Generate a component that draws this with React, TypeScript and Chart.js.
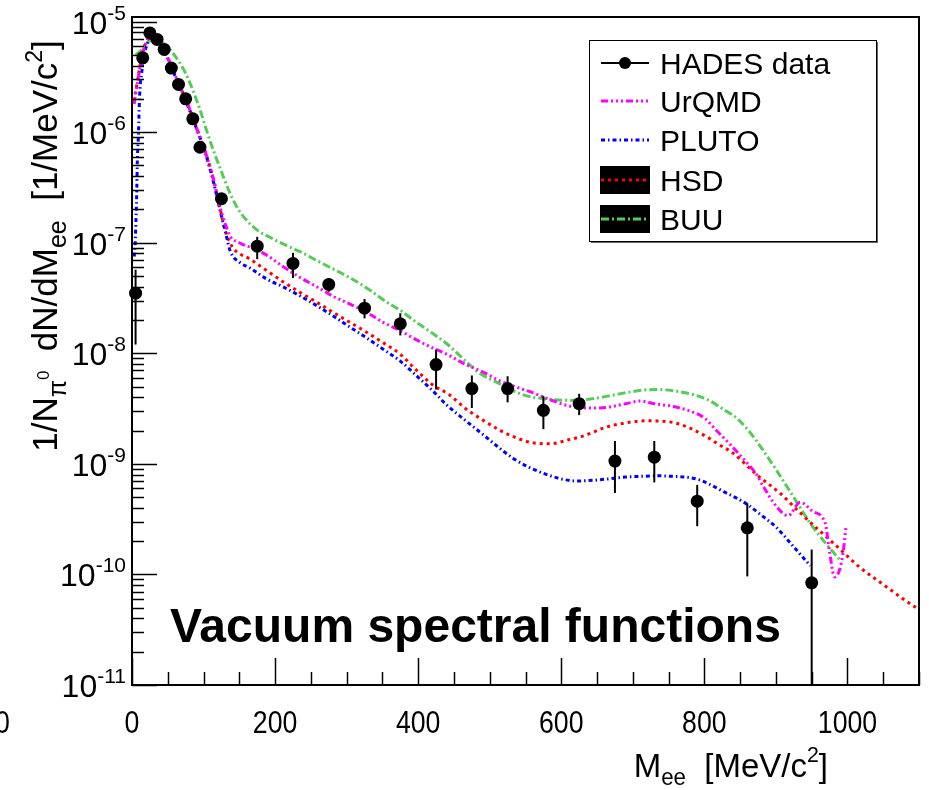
import React, { useEffect, useRef } from "react";
import { Chart, registerables } from "chart.js";

Chart.register(...registerables);

const FONT = '"Liberation Sans", Arial, Helvetica, sans-serif';

// ---- HADES data ----
const hadesMass = [5, 15, 25, 35, 45, 55, 65, 75, 85, 95, 125, 175, 225, 275, 325, 375, 425, 475, 525, 575, 625, 675, 730, 790, 860, 950];
const hadesYield = [3.5e-8, 4.7e-6, 7.9e-6, 6.9e-6, 5.6e-6, 3.8e-6, 2.7e-6, 2.0e-6, 1.32e-6, 7.3e-7, 2.5e-7, 9.3e-8, 6.5e-8, 4.2e-8, 2.56e-8, 1.85e-8, 7.9e-9, 4.8e-9, 4.8e-9, 3.05e-9, 3.5e-9, 1.06e-9, 1.15e-9, 4.6e-10, 2.64e-10, 8.4e-11];
const hadesUpper = [5.7e-8, 5.0e-6, 8.4e-6, 7.3e-6, 5.9e-6, 4.0e-6, 2.85e-6, 2.1e-6, 1.4e-6, 7.7e-7, 2.7e-7, 1.13e-7, 8.1e-8, 4.8e-8, 3.1e-8, 2.3e-8, 1.08e-8, 6.3e-9, 6.2e-9, 4.1e-9, 4.3e-9, 1.61e-9, 1.61e-9, 6.45e-10, 4.4e-10, 1.68e-10];
const hadesLower = [1.2e-8, 4.4e-6, 7.4e-6, 6.5e-6, 5.3e-6, 3.6e-6, 2.55e-6, 1.9e-6, 1.25e-6, 6.9e-7, 2.3e-7, 7.1e-8, 4.8e-8, 3.6e-8, 2.07e-8, 1.45e-8, 4.7e-9, 3.2e-9, 3.6e-9, 2.06e-9, 2.76e-9, 5.45e-10, 6.8e-10, 2.73e-10, 9.6e-11, 1e-12];

// ---- UrQMD ----
const urqmdMass = [3, 5, 8, 11, 15, 20, 25, 30, 40, 50, 60, 70, 80, 90, 100, 105, 110, 115, 120, 125, 130, 137, 150, 175, 190, 210, 235, 260, 280, 300, 330, 350, 375, 395, 420, 440, 465, 490, 515, 535, 560, 585, 610, 640, 665, 690, 710, 730, 757, 780, 800, 817, 836, 855, 873, 882, 901, 917, 934, 952, 969, 975, 982, 989, 994, 998];
const urqmdYield = [1.8e-6, 2.2e-6, 2.9e-6, 3.8e-6, 5.2e-6, 6.5e-6, 7.3e-6, 7.4e-6, 6.4e-6, 4.7e-6, 3.3e-6, 2.35e-6, 1.65e-6, 1.1e-6, 7.4e-7, 5.9e-7, 4.6e-7, 3.5e-7, 2.5e-7, 1.9e-7, 1.5e-7, 1.15e-7, 1.0e-7, 8.6e-8, 7.6e-8, 6.15e-8, 4.85e-8, 3.94e-8, 3.3e-8, 2.88e-8, 2.3e-8, 1.92e-8, 1.6e-8, 1.35e-8, 1.12e-8, 9.8e-9, 8.0e-9, 6.8e-9, 5.6e-9, 5.0e-9, 4.4e-9, 3.8e-9, 3.35e-9, 3.2e-9, 3.25e-9, 3.5e-9, 3.7e-9, 3.5e-9, 3.3e-9, 3.0e-9, 2.6e-9, 2.0e-9, 1.5e-9, 1.1e-9, 8.0e-10, 6.3e-10, 4.1e-10, 3.4e-10, 4.5e-10, 3.7e-10, 2.9e-10, 1.6e-10, 9.5e-11, 1.1e-10, 1.6e-10, 2.7e-10];

// ---- PLUTO ----
const plutoMass = [3, 4, 5.5, 6.5, 7.5, 9, 10, 11, 13.5, 16, 20, 25, 30, 40, 50, 60, 70, 80, 90, 100, 105, 110, 115, 120, 125, 130, 137, 151, 165, 188, 211, 235, 258, 280, 305, 330, 350, 375, 395, 420, 440, 465, 488, 510, 533, 555, 580, 600, 620, 645, 665, 690, 710, 735, 757, 780, 795, 810, 827, 845, 860, 878, 901, 924, 948];
const plutoYield = [7.5e-8, 8.5e-8, 1.6e-7, 2.6e-7, 5.6e-7, 9.5e-7, 1.6e-6, 2.4e-6, 3.4e-6, 4.8e-6, 5.9e-6, 7.0e-6, 7.2e-6, 6.3e-6, 4.6e-6, 3.25e-6, 2.3e-6, 1.6e-6, 1.08e-6, 7.2e-7, 5.7e-7, 4.4e-7, 3.3e-7, 2.4e-7, 1.75e-7, 1.3e-7, 8.5e-8, 6.6e-8, 5.9e-8, 4.7e-8, 4.0e-8, 3.3e-8, 2.7e-8, 2.2e-8, 1.72e-8, 1.35e-8, 1.1e-8, 8.5e-9, 6.5e-9, 4.6e-9, 3.4e-9, 2.5e-9, 1.9e-9, 1.45e-9, 1.12e-9, 9.3e-10, 8.0e-10, 7.3e-10, 7.0e-10, 7.1e-10, 7.3e-10, 7.6e-10, 7.7e-10, 7.8e-10, 7.7e-10, 7.5e-10, 7.1e-10, 6.4e-10, 5.6e-10, 4.9e-10, 4.3e-10, 3.5e-10, 2.65e-10, 1.8e-10, 1.2e-10];

// ---- HSD ----
const hsdMass = [3, 5, 8, 11, 15, 20, 25, 30, 40, 50, 60, 70, 80, 90, 100, 105, 110, 115, 120, 125, 130, 137, 142, 165, 190, 212, 235, 258, 280, 305, 330, 350, 375, 395, 420, 444, 465, 490, 515, 537, 560, 585, 610, 630, 663, 690, 720, 756, 780, 803, 820, 840, 873, 906, 934, 959, 985, 1018, 1050, 1078, 1100];
const hsdYield = [1.9e-6, 2.3e-6, 3.0e-6, 3.9e-6, 5.3e-6, 6.6e-6, 7.2e-6, 7.3e-6, 6.4e-6, 4.7e-6, 3.3e-6, 2.35e-6, 1.65e-6, 1.1e-6, 7.4e-7, 5.9e-7, 4.6e-7, 3.5e-7, 2.5e-7, 1.8e-7, 1.3e-7, 1.0e-7, 8.8e-8, 7.1e-8, 5.5e-8, 4.4e-8, 3.55e-8, 2.9e-8, 2.37e-8, 1.9e-8, 1.52e-8, 1.26e-8, 9.8e-9, 7.3e-9, 5.2e-9, 4.2e-9, 3.2e-9, 2.5e-9, 2.0e-9, 1.72e-9, 1.55e-9, 1.52e-9, 1.65e-9, 1.78e-9, 2.15e-9, 2.35e-9, 2.45e-9, 2.37e-9, 2.1e-9, 1.76e-9, 1.5e-9, 1.25e-9, 8.0e-10, 5.4e-10, 3.6e-10, 2.55e-10, 1.8e-10, 1.15e-10, 8.1e-11, 6.0e-11, 4.8e-11];

// ---- BUU ----
const buuMass = [5, 10, 15, 20, 25, 35, 45, 55, 65, 75, 85, 95, 105, 115, 125, 135, 145, 155, 175, 195, 215, 235, 260, 281, 305, 328, 356, 375, 393, 421, 440, 468, 486, 514, 547, 580, 617, 640, 665, 690, 715, 735, 760, 780, 805, 827, 845, 859, 878, 899, 924, 948, 962, 978, 992];
const buuYield = [5.0e-6, 5.3e-6, 5.7e-6, 6.3e-6, 6.7e-6, 6.7e-6, 6.3e-6, 5.4e-6, 4.4e-6, 3.4e-6, 2.4e-6, 1.6e-6, 1.0e-6, 6.5e-7, 4.4e-7, 3.0e-7, 2.2e-7, 1.75e-7, 1.3e-7, 1.1e-7, 9.5e-8, 8.3e-8, 6.8e-8, 5.8e-8, 4.8e-8, 3.9e-8, 2.9e-8, 2.45e-8, 2.0e-8, 1.5e-8, 1.22e-8, 8.3e-9, 6.6e-9, 5.3e-9, 4.2e-9, 3.85e-9, 3.75e-9, 3.85e-9, 4.1e-9, 4.4e-9, 4.65e-9, 4.7e-9, 4.55e-9, 4.3e-9, 3.8e-9, 3.1e-9, 2.6e-9, 2.1e-9, 1.45e-9, 9.1e-10, 5.1e-10, 2.9e-10, 2.2e-10, 1.65e-10, 1.3e-10];

// ---- axes ----
const xMin = 0;
const xMax = 1100;
const yMin = 1e-11;
const yMax = 1.1e-5;
const xTickLabels = [0, 200, 400, 600, 800, 1000];
const yDecades = [-11, -10, -9, -8, -7, -6, -5];

const legendLabels = ["HADES data", "UrQMD", "PLUTO", "HSD", "BUU"];
const seriesColors = ["#000000", "#ff00ff", "#0000ff", "#ff0000", "#55cc55"];
const seriesDashes = [[], [7, 3, 2, 3, 2, 3, 2, 3], [4, 3, 1.5, 3], [3, 4], [8, 3, 2, 3]];

type Part = { t: string; size: number; dy?: number; bold?: boolean };

function fontOf(p: Part) {
  return `${p.bold ? "bold " : ""}${p.size}px ${FONT}`;
}

function drawParts(ctx: CanvasRenderingContext2D, parts: Part[], x: number, y: number, align: string, sx = 1) {
  ctx.save();
  ctx.translate(x, y);
  ctx.scale(sx, 1);
  ctx.textAlign = "left";
  ctx.textBaseline = "alphabetic";
  let w = 0;
  for (const p of parts) {
    ctx.font = fontOf(p);
    w += ctx.measureText(p.t).width;
  }
  let cx = align === "right" ? -w : align === "center" ? -w / 2 : 0;
  for (const p of parts) {
    ctx.font = fontOf(p);
    ctx.fillText(p.t, cx, p.dy || 0);
    cx += ctx.measureText(p.t).width;
  }
  ctx.restore();
}

const rootStyle = {
  id: "rootStyle",
  beforeDatasetDraw(chart: any, args: any) {
    if (args.index !== 0) return;
    const { ctx, chartArea: a, scales } = chart;
    const xs = scales.x;
    const ys = scales.y;
    ctx.save();
    ctx.beginPath();
    ctx.rect(a.left, a.top, a.right - a.left, a.bottom - a.top);
    ctx.clip();
    ctx.strokeStyle = "#000";
    ctx.lineWidth = 2;
    hadesMass.forEach((m, i) => {
      const px = xs.getPixelForValue(m);
      ctx.beginPath();
      ctx.moveTo(px, ys.getPixelForValue(hadesUpper[i]));
      ctx.lineTo(px, ys.getPixelForValue(hadesLower[i]));
      ctx.stroke();
    });
    ctx.restore();
  },
  afterDraw(chart: any) {
    const { ctx, chartArea: a, scales } = chart;
    const xs = scales.x;
    const ys = scales.y;
    ctx.save();
    ctx.fillStyle = "#000";
    ctx.strokeStyle = "#000";

    // frame
    ctx.lineWidth = 2;
    ctx.strokeRect(a.left, a.top, a.right - a.left, a.bottom - a.top);

    // y ticks
    ctx.lineWidth = 1.5;
    for (const e of yDecades) {
      for (let k = 1; k <= 9; k++) {
        const v = k * Math.pow(10, e);
        if (v < yMin * 0.999 || v > yMax) continue;
        const py = Math.round(ys.getPixelForValue(v)) + 0.5;
        const len = k === 1 ? 25 : 12;
        ctx.beginPath();
        ctx.moveTo(a.left, py);
        ctx.lineTo(a.left + len, py);
        ctx.stroke();
      }
    }
    // x ticks
    for (let v = xMin; v <= xMax; v += 50) {
      const px = Math.round(xs.getPixelForValue(v)) + 0.5;
      const len = v % 200 === 0 ? 27 : 13;
      ctx.beginPath();
      ctx.moveTo(px, a.bottom);
      ctx.lineTo(px, a.bottom - len);
      ctx.stroke();
    }

    // x tick labels
    for (const v of xTickLabels) {
      const px = xs.getPixelForValue(v);
      drawParts(ctx, [{ t: String(v), size: 31 }], px, a.bottom + 48, "center", 0.86);
    }
    // y tick labels
    for (const e of yDecades) {
      const py = ys.getPixelForValue(Math.pow(10, e));
      drawParts(ctx, [{ t: "10", size: 32 }, { t: String(e), size: 21, dy: -14 }], 126, py + 12, "right");
    }

    // stray label at far left
    drawParts(ctx, [{ t: "0", size: 31 }], -5, a.bottom + 48, "left", 0.86);

    // x title
    drawParts(
      ctx,
      [
        { t: "M", size: 34 },
        { t: "ee", size: 23, dy: 8 },
        { t: "  [MeV/c", size: 34 },
        { t: "2", size: 22, dy: -15 },
        { t: "]", size: 34 },
      ],
      828,
      777,
      "right",
      0.97
    );

    // y title (rotated)
    ctx.save();
    ctx.translate(57, 246);
    ctx.rotate(-Math.PI / 2);
    drawParts(
      ctx,
      [
        { t: "1/N", size: 35 },
        { t: "\u03c0", size: 25, dy: 9 },
        { t: "0", size: 17, dy: -8 },
        { t: "  dN/dM", size: 35 },
        { t: "ee", size: 25, dy: 9 },
        { t: "  [1/MeV/c", size: 35 },
        { t: "2", size: 23, dy: -15 },
        { t: "]", size: 35 },
      ],
      0,
      0,
      "center",
      1.0
    );
    ctx.restore();

    // inner title
    drawParts(ctx, [{ t: "Vacuum spectral functions", size: 48, bold: true }], 170, 642, "left", 1.0);

    // legend
    const lx = 589, ly = 40, lw = 287, lh = 201;
    ctx.fillStyle = "#fff";
    ctx.fillRect(lx, ly, lw, lh);
    ctx.fillStyle = "#666";
    ctx.fillRect(lx + 2, ly + lh, lw, 2);
    ctx.fillRect(lx + lw, ly + 2, 2, lh);
    ctx.strokeStyle = "#000";
    ctx.lineWidth = 1;
    ctx.strokeRect(lx + 0.5, ly + 0.5, lw, lh);
    const rowY = [63, 101, 140, 180, 219];
    legendLabels.forEach((lab, i) => {
      const cy = rowY[i];
      if (i >= 3) {
        ctx.fillStyle = "#000";
        ctx.fillRect(600, cy - 14, 50, 28);
      }
      ctx.strokeStyle = seriesColors[i];
      ctx.lineWidth = i === 0 ? 2 : 3;
      ctx.setLineDash(seriesDashes[i]);
      ctx.beginPath();
      ctx.moveTo(601, cy);
      ctx.lineTo(649, cy);
      ctx.stroke();
      ctx.setLineDash([]);
      if (i === 0) {
        ctx.fillStyle = "#000";
        ctx.beginPath();
        ctx.arc(625, cy, 6, 0, Math.PI * 2);
        ctx.fill();
      }
      ctx.fillStyle = "#000";
      drawParts(ctx, [{ t: lab, size: 30 }], 660, cy + 11, "left", 1.0);
    });

    ctx.restore();
  },
};

export default function App() {
  const ref = useRef<HTMLCanvasElement>(null);
  useEffect(() => {
    const canvas = ref.current;
    if (!canvas) return;
    const pts = (xs: number[], ys: number[]) => xs.map((x, i) => ({ x, y: ys[i] }));
    const curve = (i: number, xs: number[], ys: number[]) => ({
      label: legendLabels[i],
      data: pts(xs, ys),
      showLine: true,
      borderColor: seriesColors[i],
      backgroundColor: seriesColors[i],
      borderWidth: 3,
      borderDash: seriesDashes[i],
      pointRadius: 0,
      pointHoverRadius: 0,
      fill: false,
      cubicInterpolationMode: "monotone",
      clip: 0,
    });
    const chart = new Chart(canvas, {
      type: "scatter",
      data: {
        datasets: [
          {
            label: legendLabels[0],
            data: pts(hadesMass, hadesYield),
            showLine: false,
            pointRadius: 6.5,
            pointHoverRadius: 6.5,
            pointBackgroundColor: "#000",
            pointBorderWidth: 0,
            pointBorderColor: "#000",
            clip: false,
          } as any,
          curve(1, urqmdMass, urqmdYield) as any,
          curve(2, plutoMass, plutoYield) as any,
          curve(3, hsdMass, hsdYield) as any,
          curve(4, buuMass, buuYield) as any,
        ],
      },
      options: {
        animation: false,
        responsive: false,
        maintainAspectRatio: false,
        devicePixelRatio: 1,
        events: [],
        layout: { padding: { left: 132, top: 17, right: 10, bottom: 105 } },
        scales: {
          x: { type: "linear", min: xMin, max: xMax, display: false },
          y: { type: "logarithmic", min: yMin, max: yMax, display: false },
        },
        plugins: {
          legend: { display: false },
          tooltip: { enabled: false },
          title: { display: false },
        },
      },
      plugins: [rootStyle as any],
    });
    return () => chart.destroy();
  }, []);
  return (
    <div style={{ position: "absolute", left: 0, top: 0, width: 929, height: 790, background: "#fff" }}>
      <canvas ref={ref} width={929} height={790} style={{ display: "block", width: 929, height: 790 }} />
    </div>
  );
}
